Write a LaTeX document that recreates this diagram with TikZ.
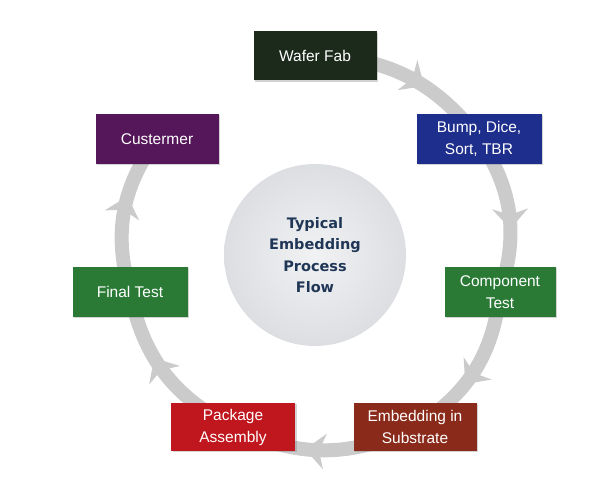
\documentclass[tikz,border=0pt]{standalone}
\usepackage{fontspec}
\setmainfont{Liberation Sans}
\newfontfamily\hubfont{DejaVu Sans}
\usetikzlibrary{shapes, arrows.meta, positioning,
  decorations.markings, backgrounds, shadows}
\definecolor{fabgreen}{HTML}{1C2A1C}
\definecolor{bumpblue}{HTML}{1E2E8C}
\definecolor{custpurple}{HTML}{55175A}
\definecolor{testgreen}{HTML}{2A7A36}
\definecolor{pkgred}{HTML}{C0161E}
\definecolor{embedred}{HTML}{8A2A1A}
\definecolor{ringgray}{HTML}{CBCBCB}
\definecolor{hubgray}{HTML}{DCDEE2}
\definecolor{hubtext}{HTML}{1F3656}
\tikzstyle{stage}=[rectangle,text=white,align=center,inner sep=0mm,
  font=\fontsize{15.5}{22}\selectfont,
  drop shadow={opacity=.35,shadow xshift=1.5pt,shadow yshift=-1.5pt}]
\tikzstyle{hub}=[circle,minimum size=182pt,inner sep=0mm,align=center,
  inner color=hubgray!40!white,outer color=hubgray,
  text=hubtext,font=\hubfont\bfseries\fontsize{14.5}{21.5}\selectfont]
\tikzstyle{ring}=[line width=14pt,draw=ringgray,bend left=26,
  postaction={decorate},decoration={markings,
  mark=at position .6 with {\arrow[ringgray]{Stealth[length=20pt,width=36pt,inset=6pt,line width=0pt]}}}]

\begin{document}
\begin{tikzpicture}[x=1pt,y=1pt]
  \useasboundingbox (0,0) rectangle (600,492);
  \node[hub] (hub) at (315,237) {Typical\\Embedding\\Process\\Flow};
  \node[stage, fill=fabgreen, minimum width=123pt, minimum height=49pt] (wafer) at (315,436) {Wafer Fab};
  \node[stage, fill=bumpblue, minimum width=125pt, minimum height=50pt] (bump) at (479,353) {Bump, Dice,\\Sort, TBR};
  \node[stage, fill=testgreen, minimum width=111pt, minimum height=50pt] (component) at (500,200) {Component\\Test};
  \node[stage, fill=embedred, minimum width=123pt, minimum height=48pt] (embed) at (415,65) {Embedding in\\Substrate};
  \node[stage, fill=pkgred, minimum width=124pt, minimum height=48pt] (package) at (233,65) {Package\\Assembly};
  \node[stage, fill=testgreen, minimum width=115pt, minimum height=50pt] (final) at (130,200) {Final Test};
  \node[stage, fill=custpurple, minimum width=123pt, minimum height=50pt] (customer) at (157,353) {Custermer};
  \begin{scope}[on background layer]
    \draw[ring] (wafer.center) to (bump.center);
    \draw[ring] (bump.center) to (component.center);
    \draw[ring] (component.center) to (embed.center);
    \draw[ring] (embed.center) to (package.center);
    \draw[ring] (package.center) to (final.center);
    \draw[ring] (final.center) to (customer.center);
  \end{scope}
\end{tikzpicture}
\end{document}
